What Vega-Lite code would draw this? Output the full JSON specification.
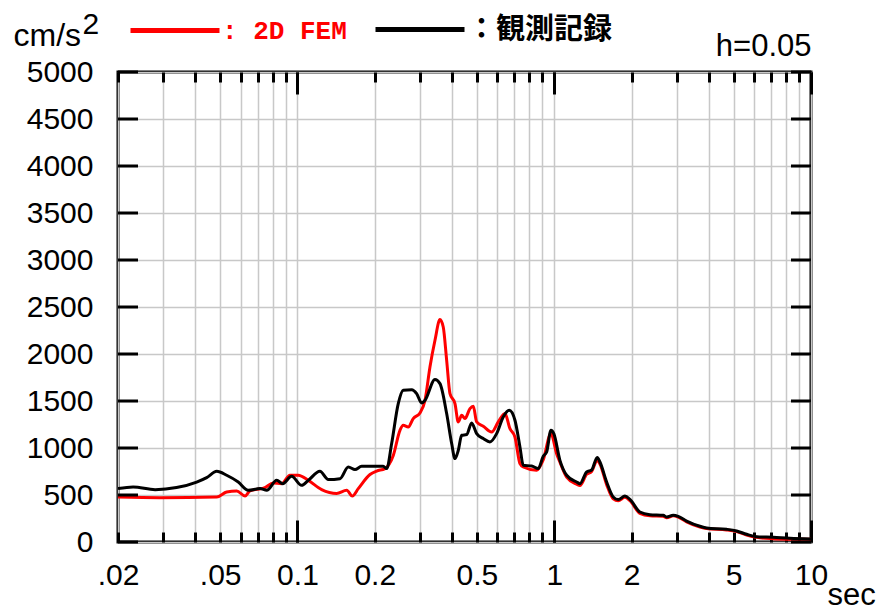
{
  "$schema": "https://vega.github.io/schema/vega-lite/v6.json",
  "width": 693,
  "height": 470,
  "autosize": {"type": "none"},
  "padding": {"left": 118, "top": 72, "right": 74, "bottom": 68},
  "background": "white",
  "config": {
    "view": {"stroke": "black", "strokeWidth": 3},
    "font": "Liberation Sans"
  },
  "datasets": {
    "yticks": [
      {"accel": 0}, {"accel": 500}, {"accel": 1000}, {"accel": 1500}, {"accel": 2000}, {"accel": 2500},
      {"accel": 3000}, {"accel": 3500}, {"accel": 4000}, {"accel": 4500}, {"accel": 5000}
    ]
  },
  "data": {
    "values": [
      {"series": "2D FEM", "period": 0.02, "accel": 479},
      {"series": "2D FEM", "period": 0.0291, "accel": 472},
      {"series": "2D FEM", "period": 0.0485, "accel": 479},
      {"series": "2D FEM", "period": 0.053, "accel": 532},
      {"series": "2D FEM", "period": 0.058, "accel": 543},
      {"series": "2D FEM", "period": 0.0625, "accel": 489},
      {"series": "2D FEM", "period": 0.0653, "accel": 543},
      {"series": "2D FEM", "period": 0.0747, "accel": 579},
      {"series": "2D FEM", "period": 0.0805, "accel": 628},
      {"series": "2D FEM", "period": 0.0868, "accel": 621},
      {"series": "2D FEM", "period": 0.0935, "accel": 710},
      {"series": "2D FEM", "period": 0.1007, "accel": 710},
      {"series": "2D FEM", "period": 0.1102, "accel": 656},
      {"series": "2D FEM", "period": 0.1242, "accel": 557},
      {"series": "2D FEM", "period": 0.1421, "accel": 515},
      {"series": "2D FEM", "period": 0.1555, "accel": 550},
      {"series": "2D FEM", "period": 0.1635, "accel": 489},
      {"series": "2D FEM", "period": 0.1725, "accel": 568},
      {"series": "2D FEM", "period": 0.1916, "accel": 718},
      {"series": "2D FEM", "period": 0.2034, "accel": 755},
      {"series": "2D FEM", "period": 0.2192, "accel": 781},
      {"series": "2D FEM", "period": 0.2361, "accel": 920},
      {"series": "2D FEM", "period": 0.2507, "accel": 1188},
      {"series": "2D FEM", "period": 0.2582, "accel": 1241},
      {"series": "2D FEM", "period": 0.2701, "accel": 1223},
      {"series": "2D FEM", "period": 0.2824, "accel": 1313},
      {"series": "2D FEM", "period": 0.3, "accel": 1373},
      {"series": "2D FEM", "period": 0.3138, "accel": 1507},
      {"series": "2D FEM", "period": 0.3281, "accel": 1862},
      {"series": "2D FEM", "period": 0.3432, "accel": 2146},
      {"series": "2D FEM", "period": 0.3589, "accel": 2366},
      {"series": "2D FEM", "period": 0.3696, "accel": 2287},
      {"series": "2D FEM", "period": 0.3811, "accel": 1933},
      {"series": "2D FEM", "period": 0.3926, "accel": 1579},
      {"series": "2D FEM", "period": 0.4106, "accel": 1472},
      {"series": "2D FEM", "period": 0.423, "accel": 1277},
      {"series": "2D FEM", "period": 0.436, "accel": 1348},
      {"series": "2D FEM", "period": 0.449, "accel": 1313},
      {"series": "2D FEM", "period": 0.4696, "accel": 1419},
      {"series": "2D FEM", "period": 0.4838, "accel": 1444},
      {"series": "2D FEM", "period": 0.4988, "accel": 1277},
      {"series": "2D FEM", "period": 0.5292, "accel": 1231},
      {"series": "2D FEM", "period": 0.5704, "accel": 1170},
      {"series": "2D FEM", "period": 0.6052, "accel": 1277},
      {"series": "2D FEM", "period": 0.6427, "accel": 1366},
      {"series": "2D FEM", "period": 0.6724, "accel": 1206},
      {"series": "2D FEM", "period": 0.7031, "accel": 1117},
      {"series": "2D FEM", "period": 0.7353, "accel": 834},
      {"series": "2D FEM", "period": 0.7573, "accel": 798},
      {"series": "2D FEM", "period": 0.8542, "accel": 763},
      {"series": "2D FEM", "period": 0.9063, "accel": 876},
      {"series": "2D FEM", "period": 0.9708, "accel": 1153},
      {"series": "2D FEM", "period": 1.0217, "accel": 940},
      {"series": "2D FEM", "period": 1.0524, "accel": 850},
      {"series": "2D FEM", "period": 1.1178, "accel": 690},
      {"series": "2D FEM", "period": 1.2225, "accel": 615},
      {"series": "2D FEM", "period": 1.2594, "accel": 600},
      {"series": "2D FEM", "period": 1.3374, "accel": 720},
      {"series": "2D FEM", "period": 1.3985, "accel": 750},
      {"series": "2D FEM", "period": 1.4704, "accel": 870},
      {"series": "2D FEM", "period": 1.5068, "accel": 830},
      {"series": "2D FEM", "period": 1.6001, "accel": 610},
      {"series": "2D FEM", "period": 1.6973, "accel": 460},
      {"series": "2D FEM", "period": 1.7751, "accel": 440},
      {"series": "2D FEM", "period": 1.8851, "accel": 475},
      {"series": "2D FEM", "period": 1.9716, "accel": 440},
      {"series": "2D FEM", "period": 2.156, "accel": 305},
      {"series": "2D FEM", "period": 2.358, "accel": 280},
      {"series": "2D FEM", "period": 2.658, "accel": 275},
      {"series": "2D FEM", "period": 2.74, "accel": 258},
      {"series": "2D FEM", "period": 2.906, "accel": 278},
      {"series": "2D FEM", "period": 3.04, "accel": 265},
      {"series": "2D FEM", "period": 3.278, "accel": 215},
      {"series": "2D FEM", "period": 3.694, "accel": 160},
      {"series": "2D FEM", "period": 3.922, "accel": 143},
      {"series": "2D FEM", "period": 4.692, "accel": 128},
      {"series": "2D FEM", "period": 5.134, "accel": 110},
      {"series": "2D FEM", "period": 5.614, "accel": 75},
      {"series": "2D FEM", "period": 6.14, "accel": 50},
      {"series": "2D FEM", "period": 7.124, "accel": 35},
      {"series": "2D FEM", "period": 8.278, "accel": 30},
      {"series": "2D FEM", "period": 10, "accel": 28},
      {"series": "観測記録", "period": 0.02, "accel": 568},
      {"series": "観測記録", "period": 0.0229, "accel": 585},
      {"series": "観測記録", "period": 0.0279, "accel": 557},
      {"series": "観測記録", "period": 0.0338, "accel": 579},
      {"series": "観測記録", "period": 0.0405, "accel": 638},
      {"series": "観測記録", "period": 0.0443, "accel": 685},
      {"series": "観測記録", "period": 0.0485, "accel": 752},
      {"series": "観測記録", "period": 0.053, "accel": 710},
      {"series": "観測記録", "period": 0.0588, "accel": 638},
      {"series": "観測記録", "period": 0.0643, "accel": 550},
      {"series": "観測記録", "period": 0.0715, "accel": 568},
      {"series": "観測記録", "period": 0.0759, "accel": 550},
      {"series": "観測記録", "period": 0.083, "accel": 656},
      {"series": "観測記録", "period": 0.0876, "accel": 621},
      {"series": "観測記録", "period": 0.0949, "accel": 699},
      {"series": "観測記録", "period": 0.1038, "accel": 603},
      {"series": "観測記録", "period": 0.1102, "accel": 656},
      {"series": "観測記録", "period": 0.1223, "accel": 752},
      {"series": "観測記録", "period": 0.1318, "accel": 664},
      {"series": "観測記録", "period": 0.1464, "accel": 674},
      {"series": "観測記録", "period": 0.1577, "accel": 798},
      {"series": "観測記録", "period": 0.1675, "accel": 770},
      {"series": "観測記録", "period": 0.1778, "accel": 805},
      {"series": "観測記録", "period": 0.2158, "accel": 805},
      {"series": "観測記録", "period": 0.2226, "accel": 781},
      {"series": "観測記録", "period": 0.2327, "accel": 1047},
      {"series": "観測記録", "period": 0.2469, "accel": 1472},
      {"series": "観測記録", "period": 0.2582, "accel": 1614},
      {"series": "観測記録", "period": 0.2785, "accel": 1621},
      {"series": "観測記録", "period": 0.2912, "accel": 1579},
      {"series": "観測記録", "period": 0.3046, "accel": 1479},
      {"series": "観測記録", "period": 0.3138, "accel": 1507},
      {"series": "観測記録", "period": 0.3432, "accel": 1728},
      {"series": "観測記録", "period": 0.3589, "accel": 1685},
      {"series": "観測記録", "period": 0.3811, "accel": 1366},
      {"series": "観測記録", "period": 0.3986, "accel": 1047},
      {"series": "観測記録", "period": 0.4106, "accel": 887},
      {"series": "観測記録", "period": 0.423, "accel": 976},
      {"series": "観測記録", "period": 0.436, "accel": 1135},
      {"series": "観測記録", "period": 0.456, "accel": 1143},
      {"series": "観測記録", "period": 0.4768, "accel": 1266},
      {"series": "観測記録", "period": 0.4988, "accel": 1153},
      {"series": "観測記録", "period": 0.5292, "accel": 1100},
      {"series": "観測記録", "period": 0.5618, "accel": 1064},
      {"series": "観測記録", "period": 0.5966, "accel": 1153},
      {"series": "観測記録", "period": 0.633, "accel": 1330},
      {"series": "観測記録", "period": 0.6682, "accel": 1401},
      {"series": "観測記録", "period": 0.7031, "accel": 1295},
      {"series": "観測記録", "period": 0.7353, "accel": 1011},
      {"series": "観測記録", "period": 0.7573, "accel": 816},
      {"series": "観測記録", "period": 0.8166, "accel": 809},
      {"series": "観測記録", "period": 0.8665, "accel": 781},
      {"series": "観測記録", "period": 0.9063, "accel": 912},
      {"series": "観測記録", "period": 0.9343, "accel": 957},
      {"series": "観測記録", "period": 0.9708, "accel": 1188},
      {"series": "観測記録", "period": 0.9971, "accel": 1150},
      {"series": "観測記録", "period": 1.0524, "accel": 869},
      {"series": "観測記録", "period": 1.1178, "accel": 710},
      {"series": "観測記録", "period": 1.2225, "accel": 638},
      {"series": "観測記録", "period": 1.2594, "accel": 621},
      {"series": "観測記録", "period": 1.3374, "accel": 745},
      {"series": "観測記録", "period": 1.3985, "accel": 766},
      {"series": "観測記録", "period": 1.4704, "accel": 900},
      {"series": "観測記録", "period": 1.5068, "accel": 851},
      {"series": "観測記録", "period": 1.6001, "accel": 638},
      {"series": "観測記録", "period": 1.6973, "accel": 479},
      {"series": "観測記録", "period": 1.7751, "accel": 451},
      {"series": "観測記録", "period": 1.8851, "accel": 489},
      {"series": "観測記録", "period": 1.9716, "accel": 454},
      {"series": "観測記録", "period": 2.156, "accel": 319},
      {"series": "観測記録", "period": 2.358, "accel": 291},
      {"series": "観測記録", "period": 2.658, "accel": 284},
      {"series": "観測記録", "period": 2.74, "accel": 266},
      {"series": "観測記録", "period": 2.906, "accel": 284},
      {"series": "観測記録", "period": 3.04, "accel": 273},
      {"series": "観測記録", "period": 3.278, "accel": 223},
      {"series": "観測記録", "period": 3.694, "accel": 167},
      {"series": "観測記録", "period": 3.922, "accel": 149},
      {"series": "観測記録", "period": 4.692, "accel": 135},
      {"series": "観測記録", "period": 5.134, "accel": 117},
      {"series": "観測記録", "period": 5.614, "accel": 82},
      {"series": "観測記録", "period": 6.14, "accel": 57},
      {"series": "観測記録", "period": 7.124, "accel": 50},
      {"series": "観測記録", "period": 8.278, "accel": 39},
      {"series": "観測記録", "period": 10, "accel": 32}
    ]
  },
  "resolve": {"axis": {"x": "independent", "y": "independent"}},
  "layer": [
    {
      "mark": {"type": "line", "strokeWidth": 3, "interpolate": "monotone", "clip": true},
      "encoding": {
        "x": {
          "field": "period", "type": "quantitative",
          "scale": {"type": "log", "domain": [0.02, 10], "nice": false},
          "axis": {
            "orient": "bottom",
            "values": [0.02,0.03,0.04,0.05,0.06,0.07,0.08,0.09,0.1,0.2,0.3,0.4,0.5,0.6,0.7,0.8,0.9,1,2,3,4,5,6,7,8,9,10],
            "labelExpr": "datum.value == 0.02 ? '.02' : datum.value == 0.05 ? '.05' : datum.value == 0.1 ? '0.1' : datum.value == 0.2 ? '0.2' : datum.value == 0.5 ? '0.5' : datum.value == 1 ? '1' : datum.value == 2 ? '2' : datum.value == 5 ? '5' : datum.value == 10 ? '10' : ''",
            "labelOverlap": false,
            "labelFlush": false,
            "labelFont": "Liberation Sans",
            "labelFontSize": 30,
            "labelColor": "black",
            "labelPadding": 28,
            "ticks": true,
            "tickSize": -10,
            "tickColor": "black",
            "tickWidth": 3,
            "domain": false,
            "grid": true,
            "gridColor": "#c8c8c8",
            "gridWidth": 1.5,
            "title": "sec",
            "titleFont": "Liberation Sans",
            "titleFontSize": 31,
            "titleFontWeight": "normal",
            "titleColor": "black",
            "titleAngle": 0,
            "titleAlign": "left",
            "titleBaseline": "alphabetic",
            "titleX": 709,
            "titleY": 62
          }
        },
        "y": {
          "field": "accel", "type": "quantitative",
          "scale": {"domain": [0, 5000], "nice": false},
          "axis": {
            "orient": "left",
            "values": [0,500,1000,1500,2000,2500,3000,3500,4000,4500,5000],
            "format": "d",
            "labelFont": "Liberation Sans",
            "labelFontSize": 30,
            "labelColor": "black",
            "labelPadding": 25,
            "ticks": false,
            "domain": false,
            "grid": true,
            "gridColor": "#c8c8c8",
            "gridWidth": 1.5,
            "title": "cm/s",
            "titleFont": "Liberation Sans",
            "titleFontSize": 32,
            "titleFontWeight": "normal",
            "titleColor": "black",
            "titleAngle": 0,
            "titleAlign": "left",
            "titleBaseline": "alphabetic",
            "titleX": -105,
            "titleY": -27
          }
        },
        "color": {
          "field": "series", "type": "nominal",
          "scale": {"domain": ["2D FEM", "観測記録"], "range": ["#ff0000", "#000000"]},
          "legend": {
            "orient": "none",
            "legendX": 10,
            "legendY": -89.5,
            "direction": "horizontal",
            "title": null,
            "padding": 0,
            "symbolType": "stroke",
            "symbolSize": 7921,
            "symbolStrokeWidth": 5,
            "labelOffset": 0,
            "columnPadding": 18,
            "labelFontSize": 26,
            "labelLimit": 400,
            "labelBaseline": "middle",
            "labelExpr": "datum.value == '2D FEM' ? ': 2D FEM' : '：観測記録'",
            "encode": {
              "labels": {
                "update": {
                  "fill": {"signal": "datum.value == '2D FEM' ? '#ff0000' : '#000000'"},
                  "font": {"signal": "datum.value == '2D FEM' ? 'Liberation Mono' : 'Noto Sans CJK JP'"},
                  "fontWeight": {"value": "bold"},
                  "fontSize": {"signal": "datum.value == '2D FEM' ? 26 : 29"}
                }
              }
            }
          }
        }
      }
    },
    {
      "mark": {"type": "line", "opacity": 0},
      "encoding": {
        "x": {
          "field": "period", "type": "quantitative",
          "scale": {"type": "log", "domain": [0.02, 10], "nice": false},
          "axis": {
            "orient": "bottom", "offset": -470,
            "values": [0.02,0.03,0.04,0.05,0.06,0.07,0.08,0.09,0.1,0.2,0.3,0.4,0.5,0.6,0.7,0.8,0.9,1,2,3,4,5,6,7,8,9,10],
            "labels": false, "domain": false, "grid": false, "title": null,
            "ticks": true, "tickColor": "black", "tickWidth": 3, "tickSize": 10
          }
        },
        "y": {
          "field": "accel", "type": "quantitative",
          "scale": {"domain": [0, 5000], "nice": false},
          "axis": {
            "orient": "left", "offset": -693,
            "labels": false, "domain": false, "grid": false, "ticks": false,
            "title": "h=0.05",
            "titleFont": "Liberation Sans",
            "titleFontSize": 31,
            "titleFontWeight": "normal",
            "titleColor": "black",
            "titleAngle": 0,
            "titleAlign": "right",
            "titleBaseline": "alphabetic",
            "titleX": 0,
            "titleY": -17
          }
        }
      }
    },
    {
      "mark": {"type": "line", "opacity": 0},
      "encoding": {
        "x": {
          "field": "period", "type": "quantitative",
          "scale": {"type": "log", "domain": [0.02, 10], "nice": false},
          "axis": {
            "orient": "top", "offset": -470,
            "values": [0.1, 1, 10],
            "labels": false, "domain": false, "grid": false, "title": null,
            "ticks": true, "tickColor": "black", "tickWidth": 3, "tickSize": 22
          }
        },
        "y": {
          "field": "accel", "type": "quantitative",
          "scale": {"domain": [0, 5000], "nice": false},
          "axis": {
            "orient": "right", "offset": -693,
            "labels": false, "domain": false, "grid": false, "ticks": false,
            "title": "2",
            "titleFont": "Liberation Sans",
            "titleFontSize": 30,
            "titleFontWeight": "normal",
            "titleColor": "black",
            "titleAngle": 0,
            "titleAlign": "left",
            "titleBaseline": "alphabetic",
            "titleX": -36,
            "titleY": -39
          }
        }
      }
    },
    {
      "mark": {"type": "line", "opacity": 0},
      "encoding": {
        "x": {
          "field": "period", "type": "quantitative",
          "scale": {"type": "log", "domain": [0.02, 10], "nice": false},
          "axis": {
            "orient": "bottom", "offset": -470,
            "values": [0.1, 1, 10],
            "labels": false, "domain": false, "grid": false, "title": null,
            "ticks": true, "tickColor": "black", "tickWidth": 3, "tickSize": 22
          }
        },
        "y": {
          "field": "accel", "type": "quantitative",
          "scale": {"domain": [0, 5000], "nice": false},
          "axis": null
        }
      }
    },
    {
      "data": {"name": "yticks"},
      "mark": {"type": "rule", "color": "black", "strokeWidth": 3},
      "encoding": {
        "y": {"field": "accel", "type": "quantitative", "axis": null},
        "x": {"datum": 0.02, "type": "quantitative", "axis": null},
        "x2": {"datum": 0.02393}
      }
    },
    {
      "data": {"name": "yticks"},
      "mark": {"type": "rule", "color": "black", "strokeWidth": 3},
      "encoding": {
        "y": {"field": "accel", "type": "quantitative", "axis": null},
        "x": {"datum": 10, "type": "quantitative", "axis": null},
        "x2": {"datum": 8.358}
      }
    }
  ]
}
